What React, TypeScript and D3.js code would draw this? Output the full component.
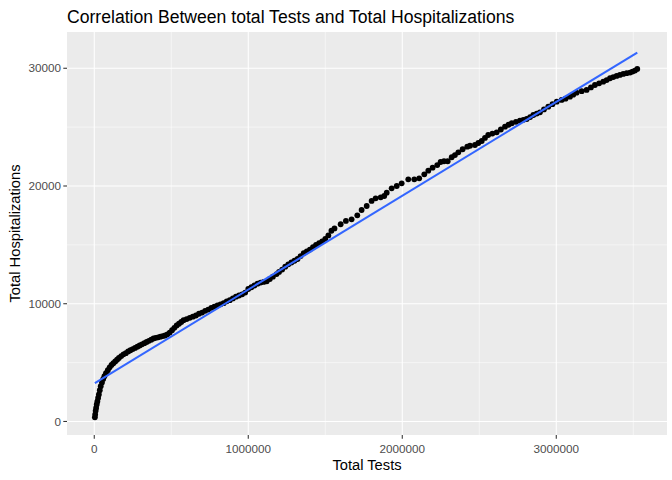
import * as d3 from "d3";

// cumulative total tests
const totalTests = [
  4000, 6000, 9000, 12000, 16000, 20000, 25000, 30000, 36000, 42000, 50000, 58000, 66000, 76000, 88000,
  100000, 112000, 124000, 136000, 148000, 160000, 175000, 190000, 205000, 220000, 235000, 250000, 265000,
  280000, 295000, 310000, 325000, 340000, 355000, 370000, 385000, 400000, 415000, 430000, 445000, 460000,
  475000, 490000, 505000, 520000, 535000, 550000, 565000, 580000, 600000, 620000, 640000, 660000, 680000,
  700000, 720000, 740000, 760000, 780000, 800000, 820000, 840000, 860000, 880000, 900000, 920000, 940000,
  960000, 980000, 1000000, 1020000, 1040000, 1060000, 1080000, 1100000, 1120000, 1140000, 1160000, 1184000,
  1200000, 1220000, 1240000, 1260000, 1280000, 1300000, 1320000, 1340000, 1360000, 1380000, 1400000,
  1420000, 1440000, 1460000, 1480000, 1500000, 1520000, 1540000, 1560000, 1600000, 1634000, 1671000,
  1708000, 1736000, 1769000, 1801000, 1827000, 1860000, 1883000, 1899000, 1931000, 1964000, 1996000,
  2039000, 2078000, 2110000, 2143000, 2169000, 2197000, 2227000, 2249000, 2271000, 2295000, 2321000,
  2342000, 2364000, 2392000, 2422000, 2440000, 2472000, 2494000, 2516000, 2537000, 2558000, 2585000,
  2613000, 2640000, 2667000, 2690000, 2711000, 2738000, 2764000, 2786000, 2808000, 2830000, 2851000,
  2873000, 2894000, 2920000, 2948000, 2975000, 3003000, 3035000, 3060000, 3089000, 3110000, 3132000,
  3165000, 3197000, 3225000, 3251000, 3278000, 3305000, 3327000, 3349000, 3370000, 3392000, 3413000,
  3435000, 3457000, 3479000, 3495000, 3511000, 3526000,
];

// cumulative total hospitalizations, same order
const totalHosp = [
  350, 600, 900, 1150, 1450, 1700, 2000, 2300, 2650, 3000, 3300, 3600, 3850, 4100, 4350,
  4600, 4800, 4950, 5100, 5250, 5400, 5550, 5700, 5800, 5950, 6050, 6150, 6250,
  6350, 6450, 6550, 6650, 6750, 6850, 6950, 7050, 7100, 7150, 7200, 7250, 7300,
  7400, 7550, 7750, 7950, 8150, 8300, 8450, 8600, 8700, 8800, 8900, 9000, 9150,
  9250, 9400, 9500, 9650, 9750, 9850, 9950, 10050, 10200, 10300, 10450, 10600, 10700,
  10800, 10950, 11250, 11400, 11550, 11700, 11800, 11850, 11900, 12100, 12300, 12520,
  12700, 12900, 13150, 13350, 13500, 13650, 13800, 14050, 14300, 14450, 14600,
  14800, 15000, 15150, 15300, 15500, 15800, 16200, 16400, 16750, 17030, 17170,
  17510, 17960, 18300, 18730, 18950, 19040, 19150, 19430, 19800, 20000, 20230,
  20570, 20570, 20650, 20990, 21300, 21560, 21780, 22040, 22100, 22100, 22440,
  22630, 22860, 23120, 23340, 23420, 23480, 23650, 23820, 24080, 24330, 24450,
  24560, 24800, 25040, 25200, 25330, 25450, 25550, 25620, 25690, 25850, 26030,
  26150, 26260, 26500, 26740, 26950, 27160, 27310, 27420, 27590, 27760, 27930,
  28050, 28160, 28370, 28580, 28720, 28860, 29000, 29150, 29250, 29350, 29430,
  29520, 29580, 29630, 29720, 29800, 29940,
];

// lm fit as drawn by geom_smooth
const fitIntercept = 3230;
const fitSlope = 0.00797;

const xTicks = [0, 1000000, 2000000, 3000000];
const xMinor = [500000, 1500000, 2500000, 3500000];
const yTicks = [0, 10000, 20000, 30000];
const yMinor = [5000, 15000, 25000];

const title = "Correlation Between total Tests and Total Hospitalizations";
const xTitle = "Total Tests";
const yTitle = "Total Hospitalizations";

export default function App() {
  const width = 672;
  const height = 480;
  const panelLeft = 67;
  const panelRight = 667;
  const panelTop = 32;
  const panelBottom = 435;
  const font = "'Liberation Sans', Arial, sans-serif";

  const xScale = d3.scaleLinear().domain([-177000, 3719000]).range([panelLeft, panelRight]);
  const yScale = d3.scaleLinear().domain([-1150, 33080]).range([panelBottom, panelTop]);

  const points = totalTests.map((t, i) => ({t, h: totalHosp[i]}));
  const xExtent = d3.extent(totalTests) as [number, number];
  const fitLine = d3.line<number>()
    .x(d => xScale(d))
    .y(d => yScale(fitIntercept + fitSlope * d));

  return (
    <svg width={width} height={height} style={{position: "absolute", left: 0, top: 0, background: "#fff"}}>
      <rect x={panelLeft} y={panelTop} width={panelRight - panelLeft} height={panelBottom - panelTop} fill="#EBEBEB"/>
      {/* minor grid */}
      {xMinor.map(v => (
        <line key={"xm" + v} x1={xScale(v)} x2={xScale(v)} y1={panelTop} y2={panelBottom} stroke="#fff" strokeWidth={0.53}/>
      ))}
      {yMinor.map(v => (
        <line key={"ym" + v} y1={yScale(v)} y2={yScale(v)} x1={panelLeft} x2={panelRight} stroke="#fff" strokeWidth={0.53}/>
      ))}
      {/* major grid */}
      {xTicks.map(v => (
        <line key={"xg" + v} x1={xScale(v)} x2={xScale(v)} y1={panelTop} y2={panelBottom} stroke="#fff" strokeWidth={1.07}/>
      ))}
      {yTicks.map(v => (
        <line key={"yg" + v} y1={yScale(v)} y2={yScale(v)} x1={panelLeft} x2={panelRight} stroke="#fff" strokeWidth={1.07}/>
      ))}

      <g>
        {points.map((p, i) => (
          <circle key={i} cx={xScale(p.t)} cy={yScale(p.h)} r={2.9} fill="#000"/>
        ))}
      </g>
      <path d={fitLine(xExtent) ?? ""} fill="none" stroke="#3366FF" strokeWidth={2.1}/>

      {/* axes ticks + labels */}
      {xTicks.map(v => (
        <g key={"xt" + v}>
          <line x1={xScale(v)} x2={xScale(v)} y1={panelBottom} y2={panelBottom + 3.7} stroke="#333" strokeWidth={1.07}/>
          <text x={xScale(v)} y={panelBottom + 17.5} textAnchor="middle" fontFamily={font} fontSize={11.7} fill="#4D4D4D">{v}</text>
        </g>
      ))}
      {yTicks.map(v => (
        <g key={"yt" + v}>
          <line x1={panelLeft - 3.7} x2={panelLeft} y1={yScale(v)} y2={yScale(v)} stroke="#333" strokeWidth={1.07}/>
          <text x={panelLeft - 6} y={yScale(v) + 4.2} textAnchor="end" fontFamily={font} fontSize={11.7} fill="#4D4D4D">{v}</text>
        </g>
      ))}

      <text x={(panelLeft + panelRight) / 2} y={470} textAnchor="middle" fontFamily={font} fontSize={14.7} fill="#000">{xTitle}</text>
      <text transform={`translate(20,${(panelTop + panelBottom) / 2}) rotate(-90)`} textAnchor="middle" fontFamily={font} fontSize={14.7} fill="#000">{yTitle}</text>
      <text x={panelLeft} y={23} fontFamily={font} fontSize={17.6} fill="#000">{title}</text>
    </svg>
  );
}
